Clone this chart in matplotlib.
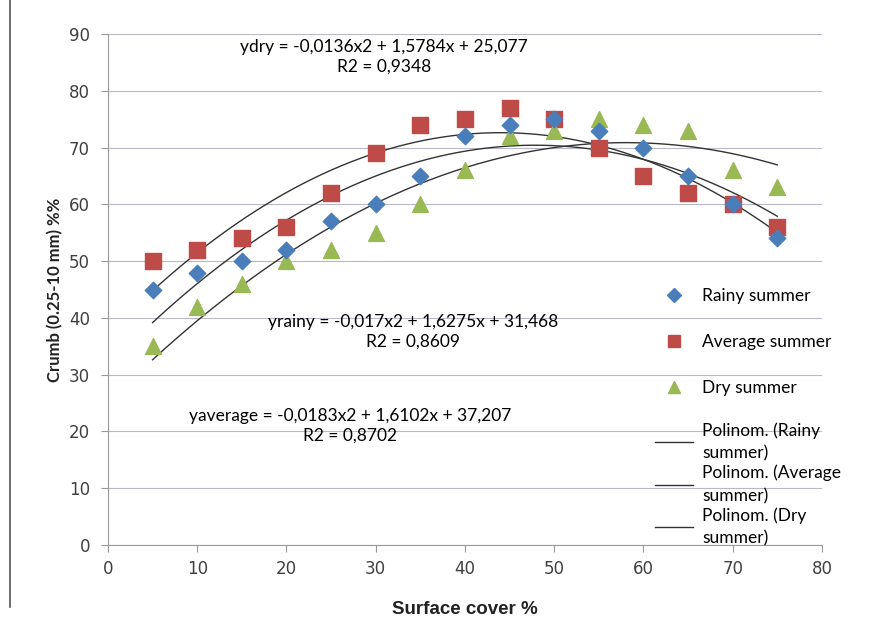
import numpy as np
import matplotlib.pyplot as plt
from matplotlib.lines import Line2D

plt.rcParams['font.family'] = ['Lato', 'DejaVu Sans']

# Datos
x = [5, 10, 15, 20, 25, 30, 35, 40, 45, 50, 55, 60, 65, 70, 75]
rainy = [45, 48, 50, 52, 57, 60, 65, 72, 74, 75, 73, 70, 65, 60, 54]
average = [50, 52, 54, 56, 62, 69, 74, 75, 77, 75, 70, 65, 62, 60, 56]
dry = [35, 42, 46, 50, 52, 55, 60, 66, 72, 73, 75, 74, 73, 66, 63]

# Coeficientes de las lineas de tendencia (polinomio grado 2)
coef_rainy = [-0.017, 1.6275, 31.468]
coef_average = [-0.0183, 1.6102, 37.207]
coef_dry = [-0.0136, 1.5784, 25.077]

c_rainy = '#4a7ebb'
c_avg = '#be4b48'
c_dry = '#98b954'

fig = plt.figure(figsize=(8.9, 6.19), dpi=100)
ax = fig.add_axes([0.1213, 0.1195, 0.8022, 0.8255])

xs = np.linspace(min(x), max(x), 200)
for coef in [coef_rainy, coef_average, coef_dry]:
    ax.plot(xs, np.polyval(coef, xs), color='#333333', lw=1.0, zorder=2)

ax.scatter(x, average, marker='s', s=130, color=c_avg, zorder=3)
ax.scatter(x, rainy, marker='D', s=70, color=c_rainy, zorder=4)
ax.scatter(x, dry, marker='^', s=130, color=c_dry, zorder=3)

ax.set_xlim(0, 80)
ax.set_ylim(0, 90)
ax.set_xticks(range(0, 81, 10))
ax.set_yticks(range(0, 91, 10))
ax.tick_params(colors='#999999', labelcolor='#404040', length=5, direction='out')
ax.tick_params(axis='y', pad=8)
ax.tick_params(axis='x', pad=6)
for lab in ax.get_xticklabels() + ax.get_yticklabels():
    lab.set_fontfamily('DejaVu Sans')
    lab.set_fontsize(12)
ax.grid(axis='y', color='#b8b8c8', lw=0.8)
ax.set_axisbelow(True)
for s in ['top', 'right']:
    ax.spines[s].set_visible(False)
ax.spines['left'].set_color('#999999')
ax.spines['bottom'].set_color('#999999')

ax.set_xlabel('Surface cover %', fontsize=13.5, fontweight='bold',
              fontfamily='Liberation Sans', color='#222222', labelpad=16)
ax.set_ylabel('Crumb (0.25-10 mm) %%', fontsize=12, fontweight='bold',
              color='#222222', labelpad=4)

# Ecuaciones
fig.text(384 / 890, 1 - 57 / 619, 'ydry = -0,0136x2 + 1,5784x + 25,077\nR2 = 0,9348',
         ha='center', va='center', fontsize=12.5, linespacing=1.25)
fig.text(413 / 890, 1 - 332 / 619, 'yrainy = -0,017x2 + 1,6275x + 31,468\nR2 = 0,8609',
         ha='center', va='center', fontsize=12.5, linespacing=1.25)
fig.text(350 / 890, 1 - 426 / 619, 'yaverage = -0,0183x2 + 1,6102x + 37,207\nR2 = 0,8702',
         ha='center', va='center', fontsize=12.5, linespacing=1.25)

marker_handles = [
    Line2D([], [], marker='D', color=c_rainy, ls='none', markersize=7),
    Line2D([], [], marker='s', color=c_avg, ls='none', markersize=9),
    Line2D([], [], marker='^', color=c_dry, ls='none', markersize=9),
]
marker_labels = ['Rainy summer', 'Average summer', 'Dry summer']
line_handles = [Line2D([], [], color='#333333', lw=1) for _ in range(3)]
line_labels = ['Polinom. (Rainy\nsummer)', 'Polinom. (Average\nsummer)', 'Polinom. (Dry\nsummer)']

leg1 = fig.legend(marker_handles, marker_labels, loc='upper left',
                  bbox_to_anchor=(655 / 890, 1 - 288 / 619),
                  frameon=False, fontsize=12.5, labelspacing=1.72, handlelength=2.2,
                  handletextpad=0.5, borderaxespad=0, borderpad=0)
leg2 = fig.legend(line_handles, line_labels, loc='upper left',
                  bbox_to_anchor=(655 / 890, 1 - 422 / 619),
                  frameon=False, fontsize=12.5, labelspacing=0.2, handlelength=2.2,
                  handletextpad=0.5, borderaxespad=0, borderpad=0)
for t in leg2.get_texts():
    t.set_linespacing(1.5)

# Borde izquierdo del escaneo
fig.add_artist(Line2D([10 / 890, 10 / 890], [0.02, 1.0], color='#555555', lw=1.2))

fig.savefig('out.png', dpi=100)
